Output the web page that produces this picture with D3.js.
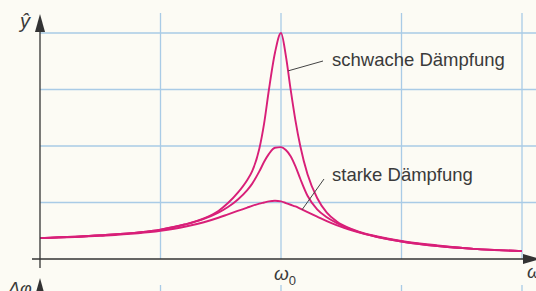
<!DOCTYPE html>
<html>
<head>
<meta charset="utf-8">
<script src="https://cdn.jsdelivr.net/npm/d3@7"></script>
<style>
  html, body { margin:0; padding:0; background:#fcfbf4; }
  svg { display:block; }
  .grid line { stroke:#a9cbe6; stroke-width:1.3; }
  .curve { fill:none; stroke:#d81f78; stroke-width:1.9; }
  .axis { stroke:#333; stroke-width:1.3; }
  .lbl { font-family:"Liberation Sans", Arial, sans-serif; fill:#3a3a3a; }
</style>
</head>
<body>
<svg width="536" height="291"></svg>
<script>
// omega / omega0
const omega = [0, 0.25, 0.5, 0.6, 0.68, 0.74, 0.78, 0.82, 0.86, 0.88, 0.91, 0.93, 0.95, 0.975,
  1.0, 1.02, 1.04, 1.06, 1.08, 1.11, 1.15, 1.19, 1.23, 1.3, 1.35, 1.4, 1.5, 1.65, 1.8, 2.0];
// amplitude in grid units
const weak   = [0.37, 0.42, 0.52, 0.61, 0.72, 0.85, 0.99, 1.17, 1.4, 1.55, 1.95, 2.4, 3.0, 3.65,
  4.0, 3.6, 3.0, 2.45, 2.0, 1.5, 1.08, 0.82, 0.67, 0.52, 0.45, 0.40, 0.32, 0.24, 0.18, 0.14];
const medium = [0.37, 0.42, 0.52, 0.61, 0.71, 0.82, 0.92, 1.05, 1.22, 1.33, 1.55, 1.72, 1.86, 1.97,
  1.98, 1.93, 1.82, 1.64, 1.42, 1.12, 0.88, 0.74, 0.64, 0.51, 0.44, 0.39, 0.31, 0.23, 0.18, 0.14];
const strong = [0.37, 0.41, 0.50, 0.57, 0.65, 0.73, 0.79, 0.85, 0.91, 0.94, 0.98, 1.0, 1.02, 1.03,
  1.02, 0.99, 0.96, 0.93, 0.89, 0.83, 0.75, 0.67, 0.60, 0.50, 0.44, 0.39, 0.31, 0.23, 0.18, 0.14];

const gridOmega = [0.5, 1, 1.5, 2];
const gridAmp = [1, 2, 3, 4];

const svg = d3.select('svg');
const x = d3.scaleLinear().domain([0, 2]).range([40, 522]);
const y = d3.scaleLinear().domain([0, 4]).range([259, 33]);

// grid
const grid = svg.append('g').attr('class', 'grid');
grid.selectAll('line.v')
  .data(gridOmega)
  .join('line')
    .attr('class', 'v')
    .attr('x1', d => x(d)).attr('x2', d => x(d))
    .attr('y1', 13).attr('y2', y(0));
grid.selectAll('line.h')
  .data(gridAmp)
  .join('line')
    .attr('class', 'h')
    .attr('x1', x(0)).attr('x2', 536)
    .attr('y1', d => y(d)).attr('y2', d => y(d));
// start of the lower (phase) diagram's grid
grid.selectAll('line.v2')
  .data(gridOmega)
  .join('line')
    .attr('class', 'v2')
    .attr('x1', d => x(d)).attr('x2', d => x(d))
    .attr('y1', 285).attr('y2', 291);

// curves
const line = d3.line()
  .x((d, i) => x(omega[i]))
  .y(d => y(d))
  .curve(d3.curveMonotoneX);

svg.append('g')
  .selectAll('path')
  .data([strong, medium, weak])
  .join('path')
    .attr('class', 'curve')
    .attr('d', line);

// axes
svg.append('line').attr('class', 'axis')
  .attr('x1', 32).attr('x2', 524).attr('y1', y(0)).attr('y2', y(0));
svg.append('path').attr('fill', '#333')
  .attr('d', `M523,${y(0) - 5}L540,${y(0)}L523,${y(0) + 5}Z`);
svg.append('line').attr('class', 'axis')
  .attr('x1', x(0)).attr('x2', x(0)).attr('y1', 268).attr('y2', 30);
svg.append('path').attr('fill', '#333')
  .attr('d', `M${x(0) - 5},32L${x(0)},14L${x(0) + 5},32Z`);
// lower axis (cut off)
svg.append('line').attr('class', 'axis')
  .attr('x1', x(0)).attr('x2', x(0)).attr('y1', 290).attr('y2', 295);
svg.append('path').attr('fill', '#333')
  .attr('d', `M${x(0) - 5},296L${x(0)},278L${x(0) + 5},296Z`);

// axis labels
svg.append('text').attr('class', 'lbl')
  .attr('x', 20).attr('y', 28)
  .style('font-size', '20px').style('font-style', 'italic')
  .text('ŷ');
const w0 = svg.append('text').attr('class', 'lbl')
  .attr('x', x(1) - 7).attr('y', 280)
  .style('font-size', '19px').style('font-style', 'italic');
w0.append('tspan').text('ω');
w0.append('tspan').attr('dy', 5).style('font-size', '13px').style('font-style', 'normal').text('0');
svg.append('text').attr('class', 'lbl')
  .attr('x', 527).attr('y', 278)
  .style('font-size', '19px').style('font-style', 'italic')
  .text('ω');
svg.append('text').attr('class', 'lbl')
  .attr('x', 8).attr('y', 295)
  .style('font-size', '18px').style('font-style', 'italic')
  .text('Δφ');

// annotations
svg.append('line')
  .attr('x1', x(1.03)).attr('y1', y(3.33))
  .attr('x2', 323).attr('y2', 61)
  .attr('stroke', '#444').attr('stroke-width', 1);
svg.append('text').attr('class', 'lbl')
  .attr('x', 332).attr('y', 66)
  .style('font-size', '18.5px')
  .text('schwache Dämpfung');

svg.append('line')
  .attr('x1', x(1.087)).attr('y1', y(0.87))
  .attr('x2', 324).attr('y2', 179)
  .attr('stroke', '#444').attr('stroke-width', 1);
svg.append('text').attr('class', 'lbl')
  .attr('x', 332).attr('y', 181)
  .style('font-size', '18.5px')
  .text('starke Dämpfung');
</script>
</body>
</html>
